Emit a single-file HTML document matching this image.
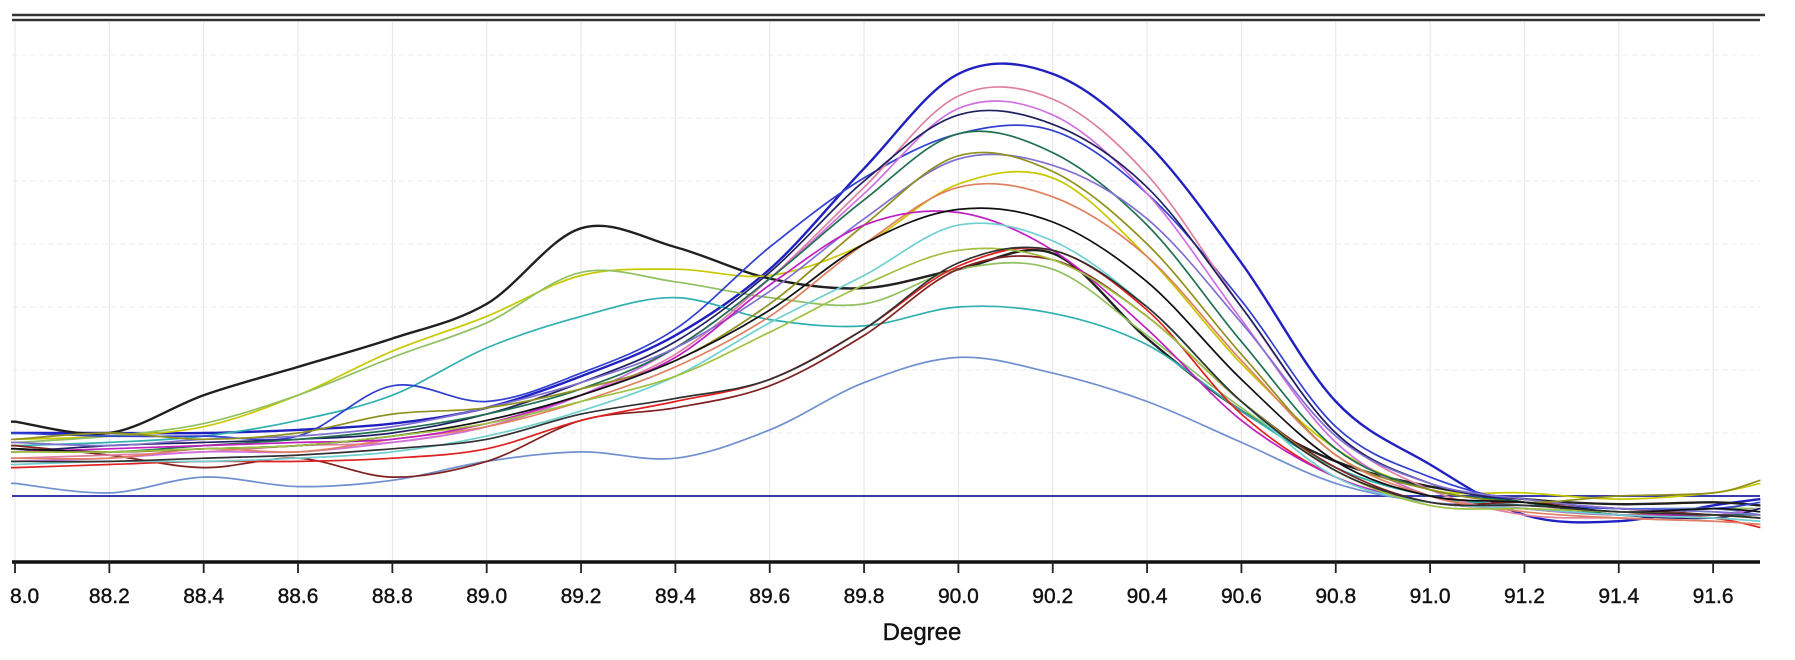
<!DOCTYPE html>
<html><head><meta charset="utf-8"><style>
html,body{margin:0;padding:0;background:#fff;}
svg{display:block;font-family:"Liberation Sans",Arial,sans-serif;}
</style></head><body>
<svg id="chart" width="1795" height="660" viewBox="0 0 1795 660" xmlns="http://www.w3.org/2000/svg">
<g id="grid"></g>
<line x1="12" y1="15" x2="1765" y2="15" stroke="#333" stroke-width="2.5"/>
<line x1="12" y1="20" x2="1760" y2="20" stroke="#333" stroke-width="2.5"/>
<line x1="12" y1="496" x2="1760" y2="496" stroke="#3a3ab0" stroke-width="2"/>
<g id="series"></g>
<line x1="12" y1="562" x2="1760" y2="562" stroke="#111" stroke-width="3.5"/>
<g id="xaxis"></g>
<text x="922" y="640" font-size="24" text-anchor="middle" fill="#111" stroke="#111" stroke-width="0.4">Degree</text>
</svg>
<script>
const xPoints = [88.0,88.2,88.4,88.6,88.8,89.0,89.2,89.4,89.6,89.8,90.0,90.2,90.4,90.6,90.8,91.0,91.2,91.4,91.6,91.7];
const tickValues = [88.0,88.2,88.4,88.6,88.8,89.0,89.2,89.4,89.6,89.8,90.0,90.2,90.4,90.6,90.8,91.0,91.2,91.4,91.6];
const tickLabels = ["8.0","88.2","88.4","88.6","88.8","89.0","89.2","89.4","89.6","89.8","90.0","90.2","90.4","90.6","90.8","91.0","91.2","91.4","91.6"];
const gridLevels = [1,2,3,4,5,6,7];
const seriesColors = ["#2020c0","#202020","#c8c800","#90c060","#30b0b0","#7090d0","#802020","#e02020","#3040d0","#e080a0","#d070e0","#202060","#207050","#8070d0","#909020","#e08060","#c020c0","#101010","#70d0d0","#a0c040","#303030"];
const s1 = [1.0,1.0,1.0,1.05,1.15,1.4,1.9,2.55,3.6,5.2,6.7,6.7,5.6,3.7,1.5,0.5,-0.3,-0.4,-0.15,-0.05];
const s2 = [1.18,1.0,1.6,2.05,2.5,3.05,4.25,3.95,3.45,3.3,3.6,3.85,2.5,1.35,0.55,0.15,-0.05,-0.13,-0.1,-0.15];
const s3 = [0.9,0.95,1.1,1.6,2.3,2.85,3.5,3.6,3.5,4.0,4.95,5.05,3.8,2.1,0.75,0.1,0.05,-0.05,0.05,0.2];
const s4 = [0.85,0.95,1.15,1.6,2.2,2.75,3.55,3.4,3.15,3.05,3.6,3.6,2.55,1.4,0.45,0.0,-0.2,-0.3,-0.2,-0.2];
const s5 = [0.8,0.85,0.95,1.2,1.6,2.35,2.85,3.15,2.8,2.7,3.0,2.9,2.4,1.35,0.45,0.0,-0.15,-0.2,-0.25,-0.3];
const s6 = [0.2,0.05,0.3,0.15,0.25,0.55,0.7,0.6,1.05,1.8,2.2,1.95,1.5,0.85,0.2,-0.1,-0.15,-0.2,-0.2,-0.3];
const s7 = [0.8,0.65,0.45,0.6,0.3,0.55,1.2,1.4,1.75,2.55,3.6,3.75,2.85,1.5,0.45,-0.1,-0.1,-0.2,-0.3,-0.35];
const s8 = [0.45,0.5,0.55,0.55,0.6,0.75,1.2,1.5,1.85,2.65,3.65,3.9,2.95,1.3,0.3,-0.1,-0.2,-0.25,-0.35,-0.5];
const s9 = [1.0,0.95,0.95,0.95,1.75,1.5,1.95,2.65,3.95,5.05,5.75,5.8,4.8,3.1,1.1,0.3,-0.1,-0.2,-0.2,-0.1];
const s10 = [0.6,0.65,0.7,0.8,0.85,1.1,1.6,2.25,3.45,4.9,6.35,6.3,5.1,3.0,1.0,0.1,-0.3,-0.35,-0.4,-0.45];
const s11 = [0.55,0.6,0.7,0.7,0.85,1.1,1.6,2.35,3.45,4.8,6.15,6.05,4.8,2.8,0.85,0.0,-0.2,-0.3,-0.3,-0.2];
const s12 = [0.7,0.8,0.85,0.9,1.0,1.3,1.8,2.45,3.55,5.0,6.05,5.9,4.9,3.0,1.0,0.2,-0.1,-0.3,-0.35,-0.2];
const s13 = [0.75,0.7,0.8,0.9,1.05,1.3,1.7,2.35,3.45,4.7,5.75,5.45,4.3,2.45,0.75,0.1,-0.1,-0.3,-0.3,-0.3];
const s14 = [0.85,0.8,0.9,0.95,1.1,1.4,1.8,2.35,3.25,4.4,5.35,5.25,4.4,2.75,0.95,0.2,-0.05,-0.2,-0.25,-0.3];
const s15 = [0.9,1.0,0.9,1.0,1.3,1.4,1.7,2.15,3.05,4.3,5.4,5.15,4.0,2.25,0.65,0.1,-0.1,0.0,0.05,0.25];
const s16 = [0.6,0.6,0.75,0.7,0.9,1.1,1.5,2.05,2.85,4.0,4.9,4.75,3.8,2.15,0.65,0.0,-0.25,-0.35,-0.4,-0.45];
const s17 = [0.7,0.75,0.8,0.85,0.9,1.15,1.6,2.2,3.35,4.3,4.5,3.9,2.65,1.2,0.3,-0.1,-0.2,-0.3,-0.3,-0.35];
const s18 = [0.75,0.7,0.75,0.8,0.95,1.2,1.6,2.15,2.95,4.0,4.55,4.35,3.4,1.85,0.55,0.0,-0.1,-0.25,-0.2,-0.25];
const s19 = [0.5,0.55,0.55,0.6,0.7,0.95,1.35,1.9,2.75,3.5,4.3,4.05,3.0,1.5,0.3,-0.1,-0.2,-0.3,-0.35,-0.4];
const s20 = [0.7,0.7,0.75,0.8,0.95,1.15,1.5,1.9,2.6,3.35,3.9,3.75,2.85,1.5,0.4,-0.15,-0.2,-0.25,-0.3,-0.35];
const s21 = [0.55,0.55,0.6,0.65,0.75,0.9,1.3,1.55,1.85,2.65,3.7,3.9,3.0,1.5,0.4,-0.1,-0.15,-0.25,-0.3,-0.35];
const seriesValues = [s1,s2,s3,s4,s5,s6,s7,s8,s9,s10,s11,s12,s13,s14,s15,s16,s17,s18,s19,s20,s21];

const NS = "http://www.w3.org/2000/svg";
function xScale(v){ return 15 + (v - 88.0) * 471.7; }
function yScale(u){ return 496 - u * 63; }

const grid = document.getElementById('grid');
tickValues.forEach(function(v){
  const l = document.createElementNS(NS,'line');
  
  
  l.setAttribute('x1',xScale(v)); l.setAttribute('x2',xScale(v));
  l.setAttribute('y1',22); l.setAttribute('y2',560);
  l.setAttribute('stroke','#e4e4e4'); l.setAttribute('stroke-width','1');
  grid.appendChild(l);
});
gridLevels.forEach(function(u){
  const l = document.createElementNS(NS,'line');
  
  
  l.setAttribute('x1',12); l.setAttribute('x2',1760);
  l.setAttribute('y1',yScale(u)); l.setAttribute('y2',yScale(u));
  l.setAttribute('stroke','#ececec'); l.setAttribute('stroke-width','1');
  l.setAttribute('stroke-dasharray','6 3');
  grid.appendChild(l);
});

const xaxis = document.getElementById('xaxis');
tickValues.forEach(function(v,i){
  const t = document.createElementNS(NS,'line');
  
  
  t.setAttribute('x1',xScale(v)); t.setAttribute('x2',xScale(v));
  t.setAttribute('y1',562); t.setAttribute('y2',573);
  t.setAttribute('stroke','#222'); t.setAttribute('stroke-width','1.8');
  xaxis.appendChild(t);
  const tx = document.createElementNS(NS,'text');
  
  
  tx.setAttribute('x', i===0 ? xScale(v)-5 : xScale(v));
  tx.setAttribute('y',603);
  tx.setAttribute('font-size','21');
  tx.setAttribute('text-anchor', i===0 ? 'start' : 'middle');
  tx.setAttribute('fill','#111');
  tx.setAttribute('stroke','#111');
  tx.setAttribute('stroke-width','0.4');
  tx.textContent = tickLabels[i];
  xaxis.appendChild(tx);
});

function smoothPath(xs, ys){
  const pts = xs.map(function(x,i){ return [xScale(x), yScale(ys[i])]; });
  let d = 'M' + (pts[0][0]-4) + ',' + pts[0][1] + ' L' + pts[0][0] + ',' + pts[0][1];
  for (let i=0;i<pts.length-1;i++){
    const p0 = pts[i-1]||pts[i], p1=pts[i], p2=pts[i+1], p3=pts[i+2]||pts[i+1];
    const c1x = p1[0]+(p2[0]-p0[0])/6, c1y = p1[1]+(p2[1]-p0[1])/6;
    const c2x = p2[0]-(p3[0]-p1[0])/6, c2y = p2[1]-(p3[1]-p1[1])/6;
    d += ' C'+c1x.toFixed(1)+','+c1y.toFixed(1)+' '+c2x.toFixed(1)+','+c2y.toFixed(1)+' '+p2[0].toFixed(1)+','+p2[1].toFixed(1);
  }
  const last = pts[pts.length-1];
  d += ' L' + 1760 + ',' + last[1];
  return d;
}
const sg = document.getElementById('series');
seriesValues.forEach(function(vals,i){
  const p = document.createElementNS(NS,'path');
  
  
  p.setAttribute('d', smoothPath(xPoints, vals));
  p.setAttribute('fill','none');
  p.setAttribute('stroke', seriesColors[i]);
  p.setAttribute('stroke-width', (i===0||i===1) ? '2.4' : '1.7');
  sg.appendChild(p);
});
</script>
</body></html>
